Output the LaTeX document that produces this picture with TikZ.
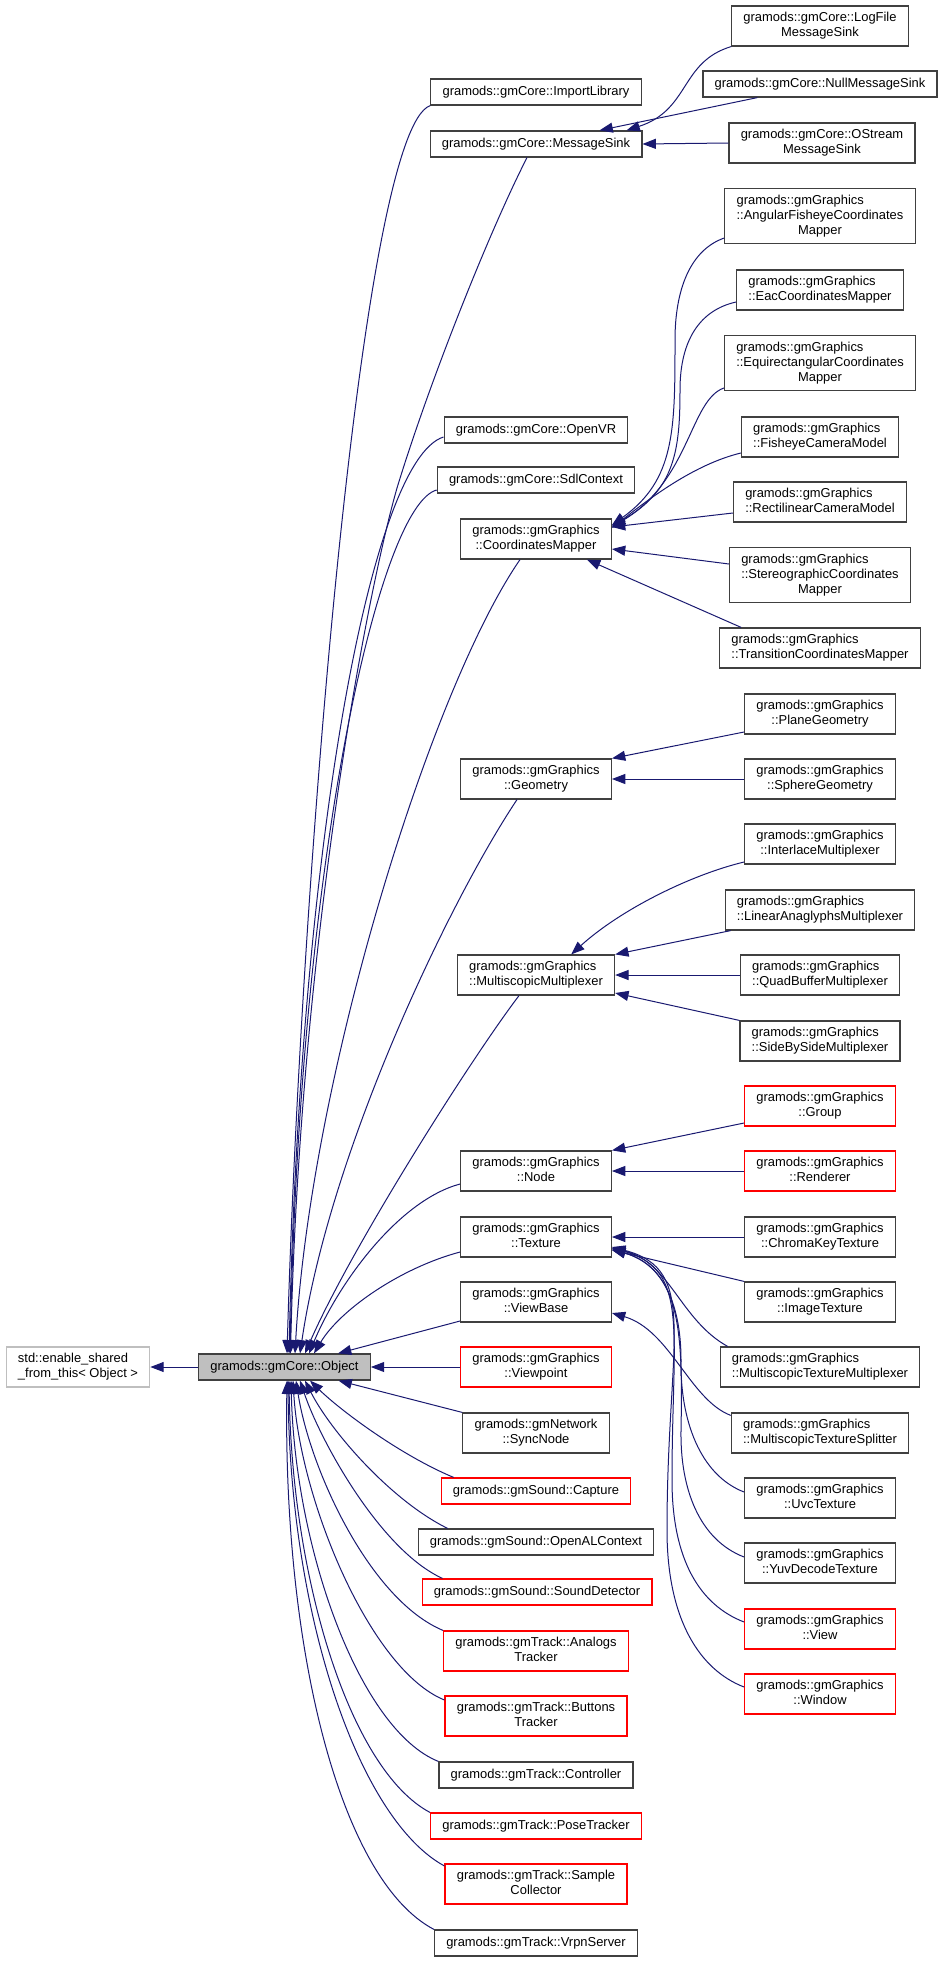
\documentclass[tikz,border=0pt]{standalone}
\usepackage{fontspec}
\setmainfont{Liberation Sans}
\usepackage{xcolor}
\usetikzlibrary{arrows.meta, calc}
\definecolor{edgeblue}{HTML}{191970}
\definecolor{boxline}{HTML}{404040}
\definecolor{objfill}{HTML}{BFBFBF}
\definecolor{extline}{HTML}{BFBFBF}
% first lines flush left, last line centred
\newcommand{\cname}[2]{\begin{tabular}{@{}l@{}}#1\\\multicolumn{1}{@{}c@{}}{#2}\end{tabular}}

\begin{document}
\begin{tikzpicture}[x=0.75pt, y=-0.75pt,
    every node/.style={font=\fontsize{9.7}{11.25}\selectfont},
    cls/.style={draw=boxline, line width=0.9pt, inner xsep=8.8pt, inner ysep=3.75pt, minimum height=19.5pt},
    clsred/.style={cls, draw=red},
    ext/.style={cls, draw=extline},
    inh/.style={-{Triangle[length=10pt, width=7.5pt]}, color=edgeblue, line width=0.75pt}
]
\useasboundingbox (0,0) rectangle (944,1962);

% --- Object and its base ---
\node[ext] (std) at (78,1367) {\cname{std::enable\_shared}{\_from\_this< Object >}};
\node[cls, fill=objfill] (obj) at (284.5,1367) {gramods::gmCore::Object};

% --- direct subclasses ---
\node[cls] (imp) at (536,92) {gramods::gmCore::ImportLibrary};
\node[cls] (msg) at (536,144) {gramods::gmCore::MessageSink};
\node[cls] (openvr) at (536,430) {gramods::gmCore::OpenVR};
\node[cls] (sdl) at (536,480) {gramods::gmCore::SdlContext};
\node[cls] (cmap) at (536,539) {\cname{gramods::gmGraphics}{::CoordinatesMapper}};
\node[cls] (geom) at (536,779) {\cname{gramods::gmGraphics}{::Geometry}};
\node[cls] (mmux) at (536,975) {\cname{gramods::gmGraphics}{::MultiscopicMultiplexer}};
\node[cls] (gnode) at (536,1171) {\cname{gramods::gmGraphics}{::Node}};
\node[cls] (tex) at (536,1237) {\cname{gramods::gmGraphics}{::Texture}};
\node[cls] (vbase) at (536,1302) {\cname{gramods::gmGraphics}{::ViewBase}};
\node[clsred] (vpoint) at (536,1367) {\cname{gramods::gmGraphics}{::Viewpoint}};
\node[cls] (sync) at (536,1433) {\cname{gramods::gmNetwork}{::SyncNode}};
\node[clsred] (capture) at (536,1491) {gramods::gmSound::Capture};
\node[cls] (openal) at (536,1542) {gramods::gmSound::OpenALContext};
\node[clsred] (sdet) at (537,1592) {gramods::gmSound::SoundDetector};
\node[clsred] (analogs) at (536,1651) {\cname{gramods::gmTrack::Analogs}{Tracker}};
\node[clsred] (buttons) at (536,1716) {\cname{gramods::gmTrack::Buttons}{Tracker}};
\node[cls] (ctrl) at (536,1775) {gramods::gmTrack::Controller};
\node[clsred] (pose) at (536,1826) {gramods::gmTrack::PoseTracker};
\node[clsred] (sample) at (536,1884) {\cname{gramods::gmTrack::Sample}{Collector}};
\node[cls] (vrpn) at (536,1943) {gramods::gmTrack::VrpnServer};

% --- second level ---
\node[cls] (logfile) at (820,26) {\cname{gramods::gmCore::LogFile}{MessageSink}};
\node[cls] (nullsink) at (820,84) {gramods::gmCore::NullMessageSink};
\node[cls] (ostream) at (822,143) {\cname{gramods::gmCore::OStream}{MessageSink}};
\node[cls] (angular) at (820,216) {\cname{gramods::gmGraphics\\::AngularFisheyeCoordinates}{Mapper}};
\node[cls] (eac) at (820,290) {\cname{gramods::gmGraphics}{::EacCoordinatesMapper}};
\node[cls] (equirect) at (820,363) {\cname{gramods::gmGraphics\\::EquirectangularCoordinates}{Mapper}};
\node[cls] (fisheye) at (820,437) {\cname{gramods::gmGraphics}{::FisheyeCameraModel}};
\node[cls] (rectilinear) at (820,502) {\cname{gramods::gmGraphics}{::RectilinearCameraModel}};
\node[cls] (stereo) at (820,575) {\cname{gramods::gmGraphics\\::StereographicCoordinates}{Mapper}};
\node[cls] (transition) at (820,648) {\cname{gramods::gmGraphics}{::TransitionCoordinatesMapper}};
\node[cls] (plane) at (820,714) {\cname{gramods::gmGraphics}{::PlaneGeometry}};
\node[cls] (sphere) at (820,779) {\cname{gramods::gmGraphics}{::SphereGeometry}};
\node[cls] (interlace) at (820,844) {\cname{gramods::gmGraphics}{::InterlaceMultiplexer}};
\node[cls] (anaglyph) at (820,910) {\cname{gramods::gmGraphics}{::LinearAnaglyphsMultiplexer}};
\node[cls] (quadbuf) at (820,975) {\cname{gramods::gmGraphics}{::QuadBufferMultiplexer}};
\node[cls] (sidebyside) at (820,1041) {\cname{gramods::gmGraphics}{::SideBySideMultiplexer}};
\node[clsred] (group) at (820,1106) {\cname{gramods::gmGraphics}{::Group}};
\node[clsred] (renderer) at (820,1171) {\cname{gramods::gmGraphics}{::Renderer}};
\node[cls] (chroma) at (820,1237) {\cname{gramods::gmGraphics}{::ChromaKeyTexture}};
\node[cls] (imgtex) at (820,1302) {\cname{gramods::gmGraphics}{::ImageTexture}};
\node[cls] (mtmux) at (820,1367) {\cname{gramods::gmGraphics}{::MultiscopicTextureMultiplexer}};
\node[cls] (mtsplit) at (820,1433) {\cname{gramods::gmGraphics}{::MultiscopicTextureSplitter}};
\node[cls] (uvc) at (820,1498) {\cname{gramods::gmGraphics}{::UvcTexture}};
\node[cls] (yuv) at (820,1563) {\cname{gramods::gmGraphics}{::YuvDecodeTexture}};
\node[clsred] (view) at (820,1629) {\cname{gramods::gmGraphics}{::View}};
\node[clsred] (window) at (820,1694) {\cname{gramods::gmGraphics}{::Window}};

% --- edges into Object ---
\draw[inh] (obj.west) -- (std.east);
\draw[inh] (imp.south west) .. controls (360,130) and (300,900) .. ($(obj.north)+(2.5,0)$);
\draw[inh] ($(msg.south)+(-9,0)$) .. controls (490,230) and (430,380) .. (397,488) .. controls (365,600) and (300,950) .. ($(obj.north)+(6,0)$);
\draw[inh] ($(openvr.west)+(0,7)$) .. controls (370,460) and (300,850) .. ($(obj.north)+(4.5,0)$);
\draw[inh] ($(sdl.west)+(0,10)$) .. controls (380,505) and (300,850) .. ($(obj.north)+(5.5,0)$);
\draw[inh] ($(cmap.south)+(-16,0)$) .. controls (430,690) and (310,1080) .. ($(obj.north)+(10.5,0)$);
\draw[inh] ($(geom.south)+(-19,0)$) .. controls (450,900) and (330,1150) .. ($(obj.north)+(15.5,0)$);
\draw[inh] ($(mmux.south)+(-17,0)$) .. controls (470,1060) and (350,1250) .. ($(obj.north)+(20.5,0)$);
\draw[inh] ($(gnode.west)+(0,13)$) .. controls (400,1200) and (340,1280) .. ($(obj.north)+(24.5,0)$);
\draw[inh] ($(tex.west)+(0,15)$) .. controls (400,1268) and (340,1310) .. ($(obj.north)+(29.5,0)$);
\draw[inh] ($(vbase.west)+(0,19)$) -- ($(obj.north)+(53.5,0)$);
\draw[inh] (vpoint.west) -- (obj.east);
\draw[inh] (sync.north west) -- ($(obj.south)+(54,0)$);
\draw[inh] ($(capture.north west)+(13,0)$) .. controls (400,1455) and (340,1410) .. ($(obj.south)+(25.5,0)$);
\draw[inh] ($(openal.north west)+(30,0)$) .. controls (390,1500) and (330,1430) .. ($(obj.south)+(20.5,0)$);
\draw[inh] ($(sdet.north west)+(21,0)$) .. controls (380,1550) and (320,1440) .. ($(obj.south)+(15.5,0)$);
\draw[inh] (analogs.north west) .. controls (370,1600) and (310,1470) .. ($(obj.south)+(11.5,0)$);
\draw[inh] ($(buttons.west)+(0,-16)$) .. controls (370,1670) and (300,1500) .. ($(obj.south)+(8.5,0)$);
\draw[inh] (ctrl.north west) .. controls (360,1730) and (295,1550) .. ($(obj.south)+(6.5,0)$);
\draw[inh] (pose.north west) .. controls (350,1770) and (292,1580) .. ($(obj.south)+(4.5,0)$);
\draw[inh] ($(sample.west)+(0,-18)$) .. controls (360,1820) and (290,1620) .. ($(obj.south)+(3.5,0)$);
\draw[inh] (vrpn.north west) .. controls (340,1880) and (283,1650) .. ($(obj.south)+(2.5,0)$);

% --- message sinks ---
\draw[inh] (logfile.south west) .. controls (680,62) and (690,110) .. ($(msg.north east)+(-16,0)$);
\draw[inh] ($(nullsink.south west)+(55,0)$) -- ($(msg.north east)+(-43,0)$);
\draw[inh] (ostream.west) -- (msg.east);

% --- coordinates mappers ---
\draw[inh] ($(angular.west)+(0,22)$) .. controls (690,250) and (675,290) .. (675,340) .. controls (675,430) and (675,480) .. ($(cmap.east)+(0,-14)$);
\draw[inh] ($(eac.west)+(0,12)$) .. controls (700,310) and (680,340) .. (680,390) .. controls (680,450) and (675,490) .. ($(cmap.east)+(0,-13)$);
\draw[inh] ($(equirect.west)+(0,25)$) .. controls (690,400) and (690,480) .. ($(cmap.east)+(0,-12)$);
\draw[inh] ($(fisheye.west)+(0,16)$) .. controls (700,463) and (660,490) .. ($(cmap.east)+(0,-11)$);
\draw[inh] ($(rectilinear.west)+(0,11)$) -- ($(cmap.east)+(0,-12)$);
\draw[inh] ($(stereo.west)+(0,-11)$) -- ($(cmap.east)+(0,10)$);
\draw[inh] ($(transition.north west)+(22,0)$) -- ($(cmap.south east)+(-25,0)$);

% --- geometry and multiplexers ---
\draw[inh] ($(plane.west)+(0,18)$) -- (geom.north east);
\draw[inh] (sphere.west) -- (geom.east);
\draw[inh] ($(interlace.west)+(0,18)$) .. controls (690,875) and (620,910) .. ($(mmux.north east)+(-44,0)$);
\draw[inh] ($(anaglyph.south west)+(6,0)$) -- (mmux.north east);
\draw[inh] (quadbuf.west) -- (mmux.east);
\draw[inh] (sidebyside.north west) -- ($(mmux.east)+(0,18)$);

% --- nodes, textures, views ---
\draw[inh] ($(group.west)+(0,17)$) -- (gnode.north east);
\draw[inh] (renderer.west) -- (gnode.east);
\draw[inh] (chroma.west) -- (tex.east);
\draw[inh] (imgtex.north west) -- ($(tex.east)+(0,13)$);
\draw[inh] ($(mtmux.north west)+(8,0)$) .. controls (680,1320) and (670,1262) .. ($(tex.east)+(0,11)$);
\draw[inh] ($(mtsplit.north west)+(0,3)$) .. controls (690,1400) and (670,1330) .. ($(vbase.east)+(0,11)$);
\draw[inh] ($(uvc.west)+(0,-6)$) .. controls (700,1475) and (680,1420) .. (681,1360) .. controls (681,1300) and (660,1262) .. ($(tex.east)+(0,13)$);
\draw[inh] ($(yuv.west)+(0,-6)$) .. controls (700,1540) and (680,1490) .. (681,1430) .. controls (683,1330) and (680,1270) .. ($(tex.east)+(0,12)$);
\draw[inh] ($(view.west)+(0,-7)$) .. controls (700,1605) and (672,1560) .. (672,1480) .. controls (672,1330) and (690,1270) .. ($(tex.east)+(0,11)$);
\draw[inh] ($(window.west)+(0,-7)$) .. controls (700,1670) and (667,1620) .. (667,1530) .. controls (667,1340) and (700,1270) .. ($(tex.east)+(0,10)$);

\end{tikzpicture}
\end{document}
